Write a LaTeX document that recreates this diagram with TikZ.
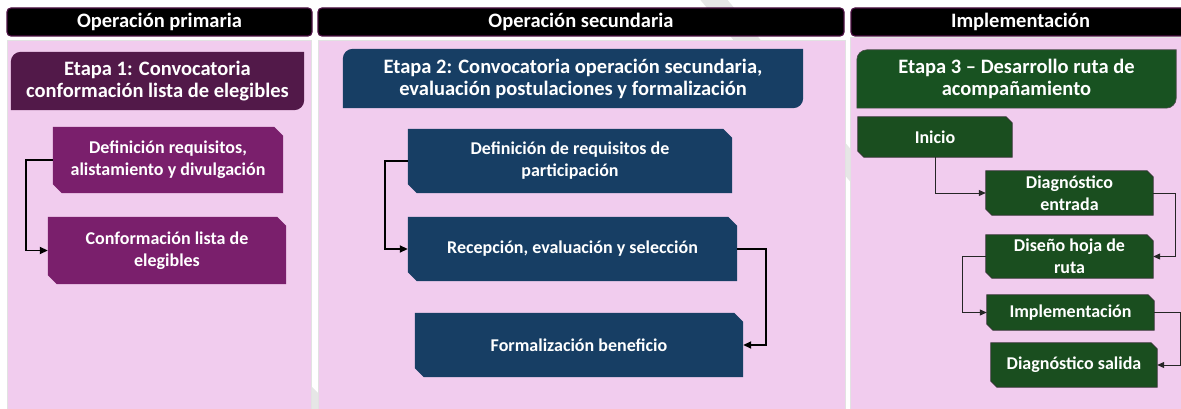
\documentclass[tikz,border=0pt]{standalone}
\usepackage{fontspec}
\setmainfont{Carlito}
\usetikzlibrary{calc,backgrounds,arrows.meta}
\definecolor{pinkbg}{HTML}{F1CCEE}
\definecolor{panelline}{HTML}{E2E2E2}
\definecolor{hdrborder}{HTML}{4B0F42}
\definecolor{plum}{HTML}{521949}
\definecolor{purplestep}{HTML}{7A1F6C}
\definecolor{navy}{HTML}{173E64}
\definecolor{greenetapa}{HTML}{185221}
\definecolor{greenstep}{HTML}{1A4E1F}
\definecolor{wmark}{HTML}{E6E6E6}
\newcommand{\snipfill}[3][]{%
  \begin{scope}[on background layer]
  \path[#1] (#2.north west) -- ($(#2.north east)+(-#3,0)$) -- ($(#2.north east)+(0,#3)$)
    -- (#2.south east) -- ($(#2.south west)+(#3,0)$) -- ($(#2.south west)+(0,-#3)$) -- cycle;
  \end{scope}}
\newcommand{\roundfill}[3][]{%
  \begin{scope}[on background layer]
  \path[#1] (#2.south west) -- ($(#2.north west)+(0,#3)$)
    arc[start angle=180,end angle=90,radius=#3pt] -- (#2.north east)
    -- ($(#2.south east)+(0,-#3)$) arc[start angle=0,end angle=-90,radius=#3pt] -- cycle;
  \end{scope}}
\tikzset{
  hdr/.style={draw=hdrborder, fill=black, line width=1.2pt, rounded corners=4pt,
    text=white, inner sep=0pt, minimum height=28pt,
    font=\fontsize{20.5}{22}\selectfont\bfseries},
  etp/.style={text=white, align=center, inner sep=0pt,
    font=\fontsize{20.5}{22}\selectfont\bfseries},
  stp/.style={text=white, align=center, inner sep=0pt,
    font=\fontsize{18}{22}\selectfont\bfseries},
  panel/.style={fill=pinkbg, draw=panelline, line width=0.8pt},
  conn/.style={line width=1.8pt, -{Triangle[length=8pt,width=7pt]}},
  connthin/.style={line width=1pt, draw=black!85, -{Triangle[length=7pt,width=6pt]}}
}
\begin{document}
\begin{tikzpicture}[x=1pt,y=-1pt]
\useasboundingbox (0,0) rectangle (1181,409);
% watermark traces and panels
\begin{scope}[on background layer]
  \draw[wmark, line width=21pt] (700,-17) -- (860,177);
  \fill[wmark] (308,383) -- (318,393) -- (318,412) -- (308,412) -- cycle;
  \filldraw[panel] (7,40) rectangle (311,415);
  \filldraw[panel] (318,40) rectangle (845,415);
  \filldraw[panel] (850,37) rectangle (1190,415);
\end{scope}
% headers
\node[hdr, minimum width=305pt] (h1) at (159.5,22) {Operación primaria};
\node[hdr, minimum width=526pt] (h2) at (581,22) {Operación secundaria};
\node[hdr, minimum width=339pt] (h3) at (1020.5,22) {Implementación};
% etapas
\node[etp, minimum width=293pt, minimum height=58pt] (e1) at (157.5,81)
  {Etapa 1: Convocatoria\\conformación lista de elegibles};
\node[etp, minimum width=460pt, minimum height=59pt] (e2) at (573,78.5)
  {Etapa 2: Convocatoria operación secundaria,\\evaluación postulaciones y formalización};
\node[etp, minimum width=319pt, minimum height=58pt] (e3) at (1016.5,79)
  {Etapa 3 – Desarrollo ruta de\\acompañamiento};
\roundfill[fill=plum]{e1}{10}
\roundfill[fill=navy]{e2}{10}
\roundfill[fill=greenetapa, draw=black!70, line width=0.6pt]{e3}{10}
% panel 1 steps
\node[stp, minimum width=230pt, minimum height=66pt] (A) at (168,160)
  {Definición requisitos,\\alistamiento y divulgación};
\node[stp, minimum width=238pt, minimum height=67pt] (B) at (167,250.5)
  {Conformación lista de\\elegibles};
\snipfill[fill=purplestep]{A}{9}
\snipfill[fill=purplestep]{B}{9}
% panel 2 steps
\node[stp, minimum width=324pt, minimum height=64pt] (C) at (570,161)
  {Definición de requisitos de\\participación};
\node[stp, minimum width=329pt, minimum height=64pt] (D) at (572.5,249)
  {Recepción, evaluación y selección};
\node[stp, minimum width=328pt, minimum height=64pt] (E) at (579,345)
  {Formalización beneficio};
\snipfill[fill=navy]{C}{9}
\snipfill[fill=navy]{D}{9}
\snipfill[fill=navy]{E}{9}
% panel 3 steps
\node[stp, minimum width=154pt, minimum height=40pt] (I1) at (935,137) {Inicio};
\node[stp, minimum width=167pt, minimum height=44pt] (I2) at (1069.5,193) {Diagnóstico\\entrada};
\node[stp, minimum width=167pt, minimum height=43pt] (I3) at (1069.5,256.5) {Diseño hoja de\\ruta};
\node[stp, minimum width=167pt, minimum height=35pt] (I4) at (1070.5,312.5) {Implementación};
\node[stp, minimum width=166pt, minimum height=44pt] (I5) at (1074,365) {Diagnóstico salida};
\foreach \n in {I1,I2,I3,I4,I5}{\snipfill[fill=greenstep, draw=black!80, line width=0.7pt]{\n}{6}}
% connectors
\draw[conn] (A.west) -- ++(-27,0) |- (B.west);
\draw[conn] (C.west) -- ++(-23,0) |- (D.west);
\draw[conn] (D.east) -- ++(29,0) |- (E.east);
\draw[connthin] (I1.south) |- (I2.west);
\draw[connthin] (I2.east) -- ++(22,0) |- (I3.east);
\draw[connthin] (I3.west) -- ++(-23,0) |- (I4.west);
\draw[connthin] (I4.east) -- ++(26,0) |- (I5.east);
\end{tikzpicture}
\end{document}
